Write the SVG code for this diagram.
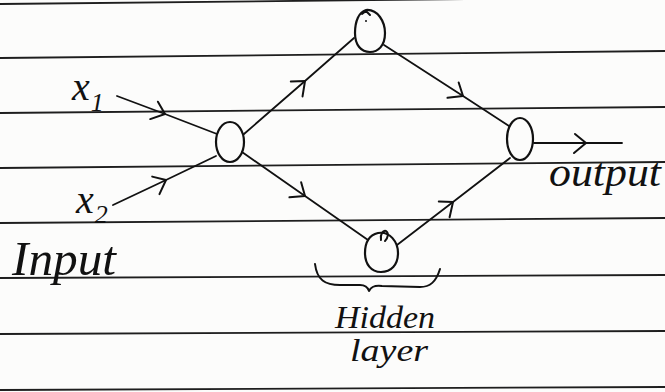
<svg xmlns="http://www.w3.org/2000/svg" width="665" height="392" viewBox="0 0 665 392">
  <style>
    .paper { fill: #fcfcfb; }
    .rule { stroke: #1e1e1e; stroke-width: 1.8; fill: none; }
    .node { fill: none; stroke: #111; stroke-width: 2.2; }
    .pen { fill: none; stroke: #111; stroke-width: 2; stroke-linecap: round; stroke-linejoin: round; }
    .edge { fill: none; stroke: #111; stroke-width: 1.8; stroke-linecap: round; marker-mid: url(#chev); }
    .hand { font-family: "Liberation Serif", "DejaVu Serif", serif; font-style: italic; fill: #111; }
  </style>
  <defs>
    <marker id="chev" markerUnits="userSpaceOnUse" markerWidth="30" markerHeight="30" viewBox="-15 -15 30 30" refX="0" refY="0" orient="auto">
      <path d="M-11,-9 L0,0 L-12,10" fill="none" stroke="#111" stroke-width="2" stroke-linecap="round" stroke-linejoin="round"/>
    </marker>
  </defs>

  <rect class="paper" x="0" y="0" width="665" height="392"/>

  <g id="ruled-lines">
    <path class="rule" d="M0,4 L665,-3"/>
    <path class="rule" d="M0,58 L665,51"/>
    <path class="rule" d="M0,113 L665,107"/>
    <path class="rule" d="M0,168 L665,162"/>
    <path class="rule" d="M0,223 L665,218"/>
    <path class="rule" d="M0,278 L665,275"/>
    <path class="rule" d="M0,334 L665,331"/>
    <path class="rule" d="M0,390 L665,387"/>
  </g>

  <g id="connectors">
    <polyline class="edge" points="117,96 165,114 217,134"/>
    <polyline class="edge" points="113,205 166,180 216,156"/>
    <polyline class="edge" points="244,134 305,81 354,38"/>
    <polyline class="edge" points="384,45 463,96 509,126"/>
    <polyline class="edge" points="242,152 305,196 368,240"/>
    <polyline class="edge" points="397,245 453,202 510,158"/>
    <polyline class="edge" points="534,143 586,143 622,143"/>
  </g>

  <g id="node-input">
    <ellipse class="node" cx="230" cy="142" rx="14" ry="20"/>
  </g>
  <g id="node-hidden-top">
    <path class="node" d="M366,10 C378,9 385,22 385,33 C385,46 378,52 370,52 C361,52 355,45 355,33 C355,21 359,12 366,10 Z"/>
    <path class="pen" d="M362,14 L366,11 L370,15"/>
    <circle cx="366" cy="21" r="1" fill="#111"/>
  </g>
  <g id="node-hidden-bottom">
    <path class="node" d="M378,233 C390,231 398,242 398,253 C398,265 391,272 381,272 C371,272 365,264 365,253 C365,242 370,235 378,233 Z"/>
    <path class="pen" d="M381,240 C380,234 383,230 386,231 C389,233 388,238 385,241"/>
  </g>
  <g id="node-output">
    <ellipse class="node" cx="520" cy="139" rx="13" ry="21"/>
  </g>

  <g id="labels">
    <text class="hand" x="72" y="100" font-size="40">x<tspan font-size="26" dx="1" dy="11">1</tspan></text>
    <text class="hand" x="76" y="213" font-size="40">x<tspan font-size="26" dx="1" dy="10">2</tspan></text>
    <text class="hand" x="12" y="275" font-size="48" textLength="104" lengthAdjust="spacingAndGlyphs">Input</text>
    <text class="hand" x="549" y="186" font-size="40" textLength="112" lengthAdjust="spacingAndGlyphs">output</text>
    <path class="pen" d="M315,264 C317,280 325,285 340,285 L360,285 C366,285 368,288 369,291 C371,287 374,285 382,286 L420,287 C430,287 436,282 440,269"/>
    <text class="hand" x="335" y="328" font-size="32" textLength="100" lengthAdjust="spacingAndGlyphs">Hidden</text>
    <text class="hand" x="350" y="361" font-size="32" textLength="78" lengthAdjust="spacingAndGlyphs">layer</text>
  </g>
</svg>
